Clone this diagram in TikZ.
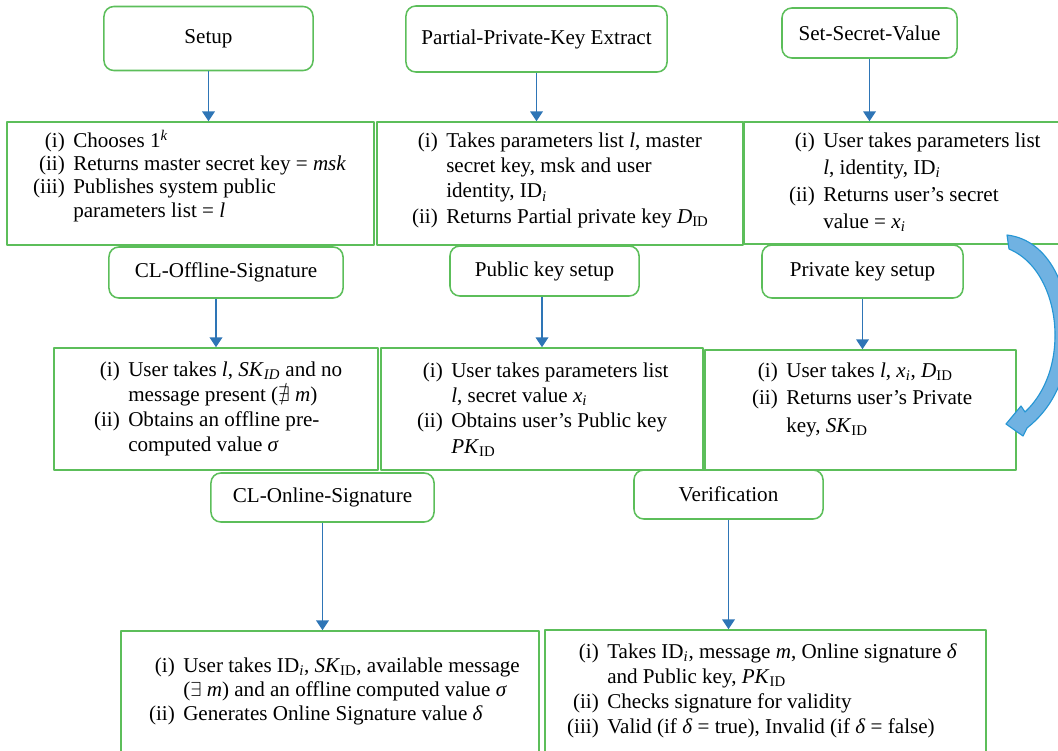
\documentclass[tikz,border=0pt]{standalone}
\usepackage{fontspec}
\setmainfont{Liberation Serif}
\usepackage{amssymb}
\usetikzlibrary{arrows.meta}
\definecolor{boxgreen}{RGB}{92,190,90}
\definecolor{flowblue}{RGB}{46,117,182}
\definecolor{bendfill}{RGB}{112,178,226}
\definecolor{bendline}{RGB}{38,150,212}
\newcommand{\lbl}[1]{\makebox[24pt][r]{#1}\hspace{6pt}}
\tikzset{
  stage/.style={draw=boxgreen, line width=1.1pt, rounded corners=7pt, inner sep=0pt, font=\fontsize{15pt}{18pt}\selectfont},
  panel/.style={draw=boxgreen, line width=1.1pt, inner sep=0pt},
  items/.style={anchor=base west, xshift=-30pt, inner sep=0pt, align=left, font=\fontsize{15pt}{#1}\selectfont},
  items/.default=17.8pt,
  flow/.style={draw=flowblue, line width=1pt, -{Triangle[width=9pt,length=7pt]}},
}
\begin{document}
\begin{tikzpicture}[x=0.025cm, y=-0.025cm, line join=round]
	%%%%%%%%%%%%%%%%%%%%%%%%%%%%%%%%%
	\useasboundingbox (0,0) rectangle (1058,750);
	\clip (0,0) rectangle (1058,750);
	%%%%%%%%%%%%%%%%%%%%%%%%%%%%%%%%%
	\node[stage, minimum width=5.225cm, minimum height=1.6cm] (setup) at (208.5,38.5) {Setup};
	\node[stage, minimum width=6.525cm, minimum height=1.65cm] (ppke) at (536.5,39) {Partial-Private-Key Extract};
	\node[stage, minimum width=4.375cm, minimum height=1.25cm] (ssv) at (869.5,33) {Set-Secret-Value};
	\node[stage, minimum width=5.85cm, minimum height=1.275cm] (offsig) at (226,272.5) {CL-Offline-Signature};
	\node[stage, minimum width=4.725cm, minimum height=1.25cm] (pubkey) at (544.5,271) {Public key setup};
	\node[stage, minimum width=5.025cm, minimum height=1.325cm] (privkey) at (862.5,271.5) {Private key setup};
	\node[stage, minimum width=5.575cm, minimum height=1.225cm] (onsig) at (322.5,497.5) {CL-Online-Signature};
	\node[stage, minimum width=4.725cm, minimum height=1.225cm] (verif) at (728.5,494.5) {Verification};
	%%%%%%%%%%%%%%%%%%%%%%%%%%%%%%%%%
	\node[panel, minimum width=9.175cm, minimum height=3.075cm] (setupbox) at (190.5,183.5) {};
	\node[panel, minimum width=9.15cm, minimum height=3.075cm] (ppkebox) at (560,183.5) {};
	\node[panel, minimum width=8.15cm, minimum height=3.05cm] (ssvbox) at (907,183) {};
	\node[panel, minimum width=8.1cm, minimum height=3.05cm] (offbox) at (216,409) {};
	\node[panel, minimum width=8.05cm, minimum height=3.05cm] (pubbox) at (542,409) {};
	\node[panel, minimum width=7.775cm, minimum height=3cm] (privbox) at (860.5,410) {};
	\node[panel, minimum width=10.45cm, minimum height=3.475cm] (onbox) at (330,700.5) {};
	\node[panel, minimum width=11.025cm, minimum height=3.5cm] (verbox) at (765.5,700) {};
	%%%%%%%%%%%%%%%%%%%%%%%%%%%%%%%%%
	% text blocks sit on the baseline of their last line
	\node[items={16.4pt}] (setuptext) at (73,217) {\lbl{(i)}Chooses 1\textsuperscript{\textit{k}}\\\lbl{(ii)}Returns master secret key = \textit{msk}\\\lbl{(iii)}Publishes system public\\\lbl{}parameters list = \textit{l}};
	\node[items={17.8pt}] (ppketext) at (446,223) {\lbl{(i)}Takes parameters list \textit{l}, master\\\lbl{}secret key, msk and user\\\lbl{}identity, ID\textsubscript{\textit{i}}\\\lbl{(ii)}Returns Partial private key \textit{D}\textsubscript{ID}};
	\node[items={19pt}] (ssvtext) at (823,228) {\lbl{(i)}User takes parameters list\\\lbl{}\textit{l}, identity, ID\textsubscript{\textit{i}}\\\lbl{(ii)}Returns user’s secret\\\lbl{}value = \textit{x}\textsubscript{\textit{i}}};
	\node[items={17.6pt}] (offtext) at (128,451) {\lbl{(i)}User takes \textit{l}, \textit{SK}\textsubscript{\textit{ID}} and no\\\lbl{}message present ($\nexists$~\textit{m})\\\lbl{(ii)}Obtains an offline pre-\\\lbl{}computed value \textit{σ}};
	\node[items={18pt}] (pubtext) at (451,453) {\lbl{(i)}User takes parameters list\\\lbl{}\textit{l}, secret value \textit{x}\textsubscript{\textit{i}}\\\lbl{(ii)}Obtains user’s Public key\\\lbl{}\textit{PK}\textsubscript{ID}};
	\node[items={19.5pt}] (privtext) at (786,432) {\lbl{(i)}User takes \textit{l}, \textit{x}\textsubscript{\textit{i}}, \textit{D}\textsubscript{ID}\\\lbl{(ii)}Returns user’s Private\\\lbl{}key, \textit{SK}\textsubscript{ID}};
	\node[items={17pt}] (ontext) at (183,720) {\lbl{(i)}User takes ID\textsubscript{\textit{i}}, \textit{SK}\textsubscript{ID}, available message\\\lbl{}($\exists$~\textit{m}) and an offline computed value \textit{σ}\\\lbl{(ii)}Generates Online Signature value \textit{δ}};
	\node[items={17.6pt}] (vertext) at (607,733) {\lbl{(i)}Takes ID\textsubscript{\textit{i}}, message \textit{m}, Online signature \textit{δ}\\\lbl{}and Public key, \textit{PK}\textsubscript{ID}\\\lbl{(ii)}Checks signature for validity\\\lbl{(iii)}Valid (if \textit{δ} = true), Invalid (if \textit{δ} = false)};
	%%%%%%%%%%%%%%%%%%%%%%%%%%%%%%%%%
	\draw[flow] (setup.south) -- (setup.south |- setupbox.north);
	\draw[flow] (ppke.south) -- (ppke.south |- ppkebox.north);
	\draw[flow] (ssv.south) -- (ssv.south |- ssvbox.north);
	\draw[flow] (offbox.north |- offsig.south) -- (offbox.north);
	\draw[flow] (pubbox.north |- pubkey.south) -- (pubbox.north);
	\draw[flow] (privkey.south) -- (privkey.south |- privbox.north);
	\draw[flow] (onsig.south) -- (onsig.south |- onbox.north);
	\draw[flow] (verif.south) -- (verif.south |- verbox.north);
	%%%%%%%%%%%%%%%%%%%%%%%%%%%%%%%%%
	\filldraw[fill=bendfill, draw=bendline, line width=0.8pt]
		(1007,235) .. controls (1050,240) and (1070,290) .. (1069,335)
		.. controls (1068,380) and (1050,410) .. (1027,428)
		-- (1023,436) -- (1006,424) -- (1021,406) -- (1025,412)
		.. controls (1042,396) and (1055,370) .. (1055,335)
		.. controls (1055,300) and (1040,262) .. (1009,249) -- cycle;
	%%%%%%%%%%%%%%%%%%%%%%%%%%%%%%%%%
\end{tikzpicture}
\end{document}
